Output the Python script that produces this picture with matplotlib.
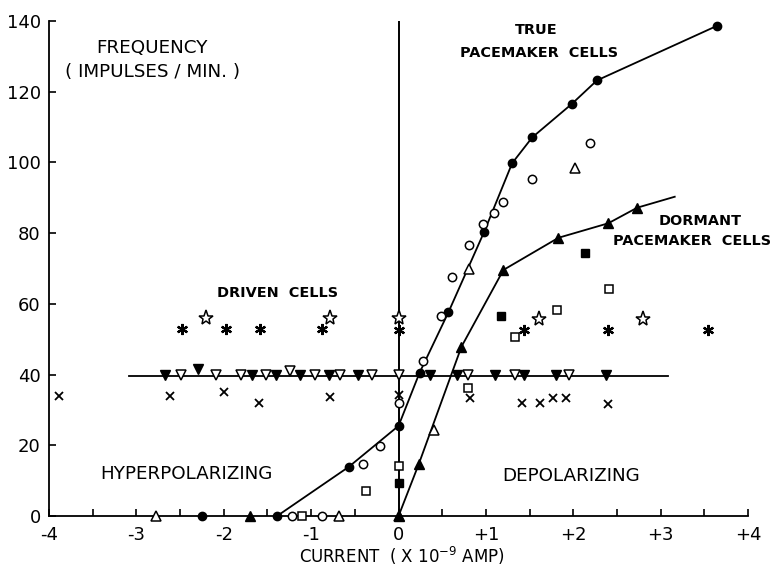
import matplotlib
matplotlib.use("Agg")
import matplotlib.pyplot as plt
import numpy as np

plt.rcParams['font.family'] = ['DejaVu Sans']

# True pacemaker cells (filled circles, connected)
tp_x = [-1.39, -0.57, 0.0, 0.24, 0.57, 0.98, 1.30, 1.53, 1.98, 2.27, 3.64]
tp_y = [0.0, 13.9, 25.5, 40.5, 57.6, 80.4, 99.8, 107.1, 116.5, 123.2, 138.6]
fc_extra_x = [-2.25]
fc_extra_y = [0.0]

# Open circles
oc_x = [-1.22, -0.88, -0.41, -0.21, 0.0, 0.28, 0.48, 0.61, 0.81, 0.97, 1.09, 1.20, 1.53, 2.19]
oc_y = [0.0, 0.0, 14.6, 19.9, 31.9, 43.8, 56.6, 67.5, 76.6, 82.5, 85.6, 88.7, 95.3, 105.6]

# Open triangles
ot_x = [-2.77, -0.68, 0.0, 0.40, 0.81, 2.02]
ot_y = [0.0, 0.0, 0.0, 24.3, 69.8, 98.3]

# Dormant pacemaker cells (filled triangles, connected)
dp_x = [0.0, 0.23, 0.72, 1.20, 1.83, 2.40, 2.73]
dp_y = [0.0, 14.6, 47.9, 69.6, 78.7, 82.8, 87.2]
dp_line_x = [0.0, 0.23, 0.72, 1.20, 1.83, 2.40, 2.73, 3.16]
dp_line_y = [0.0, 14.6, 47.9, 69.6, 78.7, 82.8, 87.2, 90.3]
ft_extra_x = [-1.70]
ft_extra_y = [0.0]

# Squares
fs_x = [0.0, 1.17, 2.13]
fs_y = [9.2, 56.6, 74.5]
os_x = [-1.10, -0.37, 0.0, 0.80, 1.33, 1.81, 2.41]
os_y = [0.0, 7.1, 14.2, 36.1, 50.6, 58.3, 64.1]

# Driven cells
star_x = [-2.20, -0.79, 0.0, 1.61, 2.80]
star_y = [55.9, 55.9, 55.9, 55.6, 55.6]
ast_x = [-2.48, -1.98, -1.59, -0.88, 0.0, 1.43, 2.40, 3.54]
ast_y = [52.8, 52.8, 52.8, 52.8, 52.6, 52.6, 52.6, 52.6]
cross_x = [-3.88, -2.61, -2.00, -1.60, -0.79, 0.0, 0.82, 1.41, 1.62, 1.77, 1.92, 2.40]
cross_y = [33.9, 33.9, 35.2, 32.1, 33.7, 34.2, 33.3, 32.1, 32.1, 33.3, 33.3, 31.7]
fdt_x = [-2.67, -2.29, -1.68, -1.40, -1.13, -0.80, -0.46, 0.36, 0.67, 1.10, 1.43, 1.80, 2.37]
fdt_y = [40.0, 41.5, 40.0, 40.0, 40.0, 40.0, 40.0, 40.0, 40.0, 40.0, 40.0, 40.0, 40.0]
odt_x = [-2.49, -2.09, -1.80, -1.52, -1.24, -0.96, -0.67, -0.30, 0.0, 0.80, 1.33, 1.95]
odt_y = [40.0, 40.0, 40.0, 40.0, 41.1, 40.0, 40.0, 40.0, 40.0, 40.0, 40.0, 40.0]
driven_line_x = [-3.08, 3.08]
driven_line_y = [39.7, 39.7]

x_ticks = [-4, -3, -2, -1, 0, 1, 2, 3, 4]
x_tick_labels = ['-4', '-3', '-2', '-1', '0', '+1', '+2', '+3', '+4']
y_ticks = [0, 20, 40, 60, 80, 100, 120, 140]

fig = plt.figure(figsize=(7.76, 5.68), dpi=100)
ax = fig.add_axes([0.0631, 0.0915, 0.901, 0.8715])
ax.set_xlim(-4, 4)
ax.set_ylim(0, 140)

k = 'black'
lw = 1.3
ax.axvline(0, color=k, lw=1.4, zorder=1)
ax.plot(tp_x, tp_y, color=k, lw=lw, zorder=2)
ax.plot(dp_line_x, dp_line_y, color=k, lw=lw, zorder=2)
ax.plot(driven_line_x, driven_line_y, color=k, lw=lw, zorder=2)

common = dict(linestyle='none', clip_on=False, zorder=3)
ax.plot(tp_x, tp_y, marker='o', ms=6, mfc=k, mec=k, **common)
ax.plot(fc_extra_x, fc_extra_y, marker='o', ms=6, mfc=k, mec=k, **common)
ax.plot(oc_x, oc_y, marker='o', ms=6, mfc='white', mec=k, mew=1.1, **common)
ax.plot(ot_x, ot_y, marker='^', ms=6.5, mfc='white', mec=k, mew=1.1, **common)
ax.plot(dp_x, dp_y, marker='^', ms=6.5, mfc=k, mec=k, **common)
ax.plot(ft_extra_x, ft_extra_y, marker='^', ms=6.5, mfc=k, mec=k, **common)
ax.plot(fs_x, fs_y, marker='s', ms=5.5, mfc=k, mec=k, **common)
ax.plot(os_x, os_y, marker='s', ms=5.5, mfc='white', mec=k, mew=1.1, **common)
ax.plot(star_x, star_y, marker='*', ms=11, mfc='white', mec=k, mew=1.1, **common)
ax.plot(ast_x, ast_y, marker=(6, 2, 0), ms=8, mec=k, mew=1.6, **common)
ax.plot(cross_x, cross_y, marker='x', ms=5.5, mec=k, mew=1.3, **common)
ax.plot(fdt_x, fdt_y, marker='v', ms=6.5, mfc=k, mec=k, **common)
ax.plot(odt_x, odt_y, marker='v', ms=6.5, mfc='white', mec=k, mew=1.1, **common)

# spines and ticks
ax.spines['top'].set_visible(False)
ax.spines['right'].set_visible(False)
ax.spines['left'].set_linewidth(1.3)
ax.spines['bottom'].set_linewidth(1.3)
ax.set_xticks(x_ticks)
ax.set_xticklabels(x_tick_labels)
ax.set_xticks(np.arange(-3.5, 4.0, 1.0), minor=True)
ax.set_yticks(y_ticks)
ax.tick_params(axis='both', which='both', direction='in', length=5, width=1.2, labelsize=13)
ax.tick_params(axis='x', which='major', pad=7)
ax.tick_params(axis='y', which='major', pad=6)

fig.text(402 / 776, 1 - 563 / 568, 'CURRENT  ( X 10$^{-9}$ AMP)', fontsize=12,
         ha='center', va='baseline')

tkw = dict(ha='center', va='center', fontsize=13.2)
bkw = dict(ha='center', va='center', fontsize=10.4, fontweight='bold', clip_on=False)
ax.text(-2.82, 132.4, 'FREQUENCY', **tkw)
ax.text(-2.82, 125.6, '( IMPULSES / MIN. )', **tkw)
ax.text(1.58, 137.5, 'TRUE', **bkw)
ax.text(1.61, 131.0, 'PACEMAKER  CELLS', **bkw)
ax.text(3.45, 83.4, 'DORMANT', **bkw)
ax.text(3.36, 77.8, 'PACEMAKER  CELLS', **bkw)
ax.text(-1.39, 63.0, 'DRIVEN  CELLS', **bkw)
ax.text(-2.43, 11.9, 'HYPERPOLARIZING', **tkw)
ax.text(1.98, 11.4, 'DEPOLARIZING', **tkw)

fig.savefig('out.png', dpi=100)
